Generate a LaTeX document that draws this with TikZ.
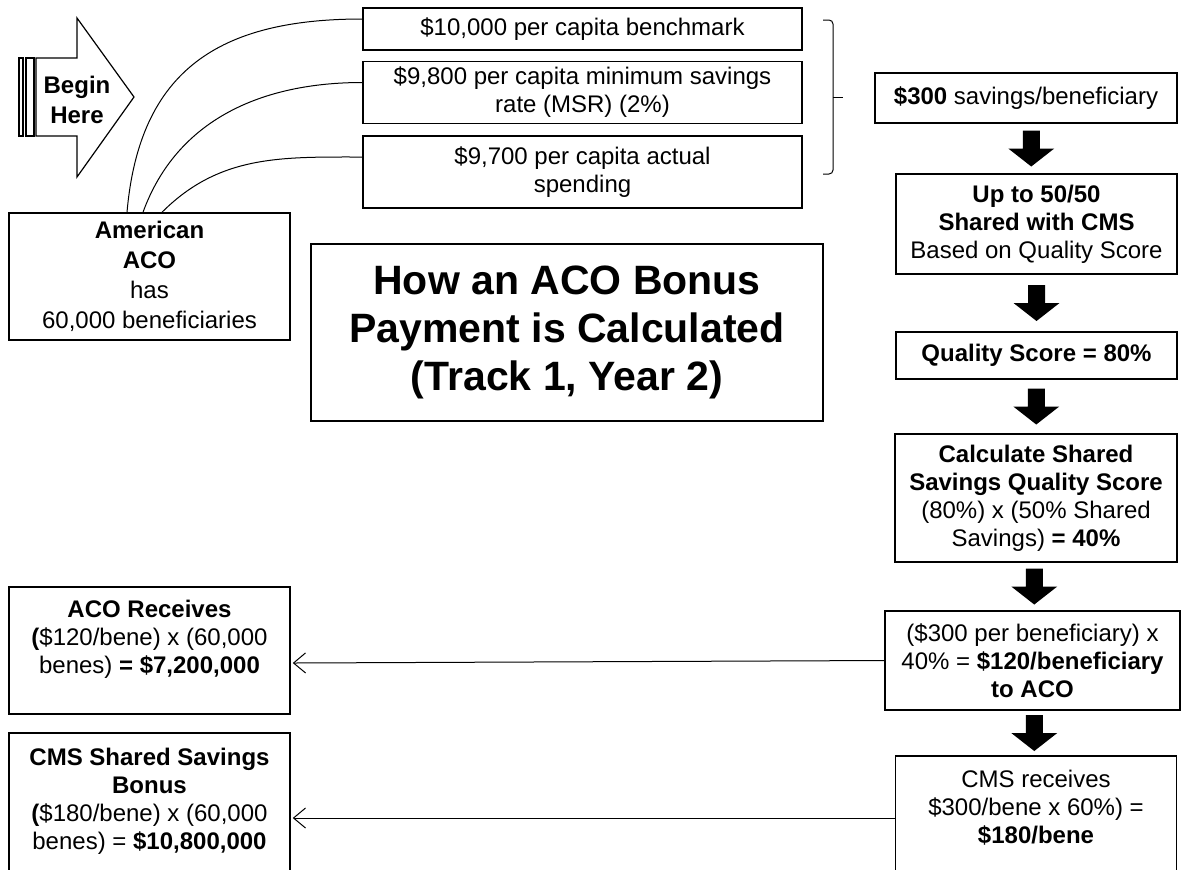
\documentclass[tikz,border=0pt]{standalone}
\usepackage{fontspec}
\setmainfont{Liberation Sans}
\usepackage{tikz}
\usetikzlibrary{arrows.meta,calc,positioning}
\def\ColW{140.5pt}
\def\TopW{219.5pt}

\tikzset{
  box/.style={draw, line width=0.75pt, align=center, inner sep=2pt,
    font=\fontsize{12}{14}\selectfont},
  link/.style={line width=0.5pt},
  backarrow/.style={line width=0.5pt, -{Straight Barb[length=6pt,width=10pt]}},
}

\begin{document}
\begin{tikzpicture}[x=0.5pt,y=-0.5pt]
  \useasboundingbox (0,0) rectangle (1181,869);
  \clip (0,0) rectangle (1181,869);

  % begin here arrow
  \draw[line width=0.6pt] (19,58) rectangle (23,136);
  \draw[line width=0.6pt] (26,58) rectangle (34,136);
  \draw[line width=0.6pt] (36,58) -- (77,58) -- (77,18) -- (134,97)
    -- (77,177) -- (77,136) -- (36,136) -- cycle;
  \node[align=center, font=\fontsize{12}{15}\selectfont\bfseries] (begin) at (77,100) {Begin\\Here};

  % left column
  \node[box, minimum width=\ColW, minimum height=63.5pt, font=\fontsize{12}{15}\selectfont]
    (aco) at (149.5,276.5) {\textbf{American}\\\textbf{ACO}\\has\\60,000 beneficiaries};
  \node[box, minimum width=\ColW, minimum height=63.5pt] (acorec) at (149.5,650.5)
    {\textbf{ACO Receives}\\\textbf{(}\$120/bene) x (60,000\\benes) \textbf{= \$7,200,000}\\\mbox{}};
  \node[box, minimum width=\ColW, minimum height=80pt] (cmsbonus) at (149.5,813)
    {\textbf{CMS Shared Savings}\\\textbf{Bonus}\\\textbf{(}\$180/bene) x (60,000\\benes) = \textbf{\$10,800,000}\\\mbox{}};

  % top boxes
  \node[box, minimum width=\TopW, minimum height=21pt] (bench) at (582.5,29)
    {\$10,000 per capita benchmark};
  \node[box, minimum width=\TopW, minimum height=31pt, below=5pt of bench] (msr)
    {\$9,800 per capita minimum savings\\rate (MSR) (2\%)};
  \node[box, minimum width=\TopW, minimum height=36pt, below=5.5pt of msr] (spend)
    {\$9,700 per capita actual\\spending};

  \node[box, minimum width=256pt, minimum height=88.5pt,
    font=\fontsize{20.5}{24}\selectfont\bfseries] (title) at (567,332.5)
    {How an ACO Bonus\\Payment is Calculated\\(Track 1, Year 2)};

  % right column
  \node[box, minimum width=151pt, minimum height=25pt] (save) at (1026,98)
    {\textbf{\$300} savings/beneficiary};
  \node[box, minimum width=\ColW, minimum height=50pt] (split) at (1036.5,224)
    {\textbf{Up to 50/50}\\\textbf{Shared with CMS}\\Based on Quality Score};
  \node[box, minimum width=\ColW, minimum height=23.5pt] (qual) at (1036.5,355.5)
    {\textbf{Quality Score = 80\%}};
  \node[box, minimum width=141pt, minimum height=64pt] (calc) at (1036,498)
    {\textbf{Calculate Shared}\\\textbf{Savings Quality Score}\\(80\%) x (50\% Shared\\Savings) \textbf{= 40\%}};
  \node[box, minimum width=147.5pt, minimum height=49.5pt] (share) at (1032.5,660.5)
    {(\$300 per beneficiary) x\\40\% = \textbf{\$120/beneficiary}\\\textbf{to ACO}};
  \node[box, minimum width=\ColW, minimum height=65pt] (cmsrec) at (1036,821)
    {CMS receives\\\$300/bene x 60\%) =\\\textbf{\$180/bene}\\\mbox{}};

  % curves from the ACO
  \draw[link] ([xshift=-11.25pt]aco.north) to[out=85,in=180,looseness=1.2] ([yshift=5pt]bench.west);
  \draw[link] ([xshift=-3.25pt]aco.north) to[out=70,in=180] ([yshift=5pt]msr.west);
  \draw[link] ([xshift=6.25pt]aco.north) to[out=45,in=180] ([yshift=7.5pt]spend.west);

  % brace
  \draw[link, rounded corners=2pt] (823,20) -| (833,174) -- (823,174);
  \draw[link] (833,97) -- (843,97);

  % block arrows
  \foreach \a/\b in {save/split,split/qual,qual/calc,calc/share,share/cmsrec}
    \fill ($(\a.south)!0.5!(\b.north)$) ++(-8.5,-18) -- ++(17,0) -- ++(0,18)
      -- ++(14.5,0) -- ++(-23,18) -- ++(-23,-18) -- ++(14.5,0) -- cycle;

  % payouts
  \draw[backarrow] (share.west) -- ([xshift=1pt,yshift=-6.25pt]acorec.east);
  \draw[backarrow] ([yshift=1.5pt]cmsrec.west) -- ([xshift=1pt,yshift=-2.5pt]cmsbonus.east);
\end{tikzpicture}
\end{document}
